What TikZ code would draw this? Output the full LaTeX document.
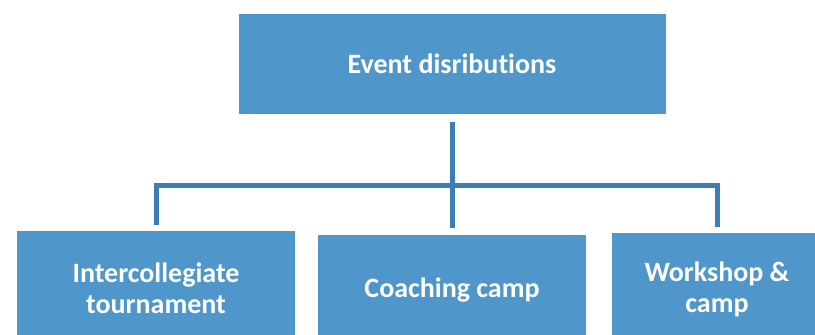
\documentclass[tikz,border=0pt]{standalone}
\usepackage{fontspec}
\setmainfont{Carlito}[Ligatures={NoCommon}]
\definecolor{boxblue}{HTML}{4F96CA}
\definecolor{lineblue}{HTML}{3C7DB3}
\begin{document}
\begin{tikzpicture}[x=1pt,y=-1pt,
		eventbox/.style={fill=boxblue,draw=none,inner sep=0pt,align=center,
			text=white,font=\bfseries\fontsize{28}{31}\selectfont},
		conn/.style={draw=lineblue,line width=5pt}]
	\useasboundingbox (0,0) rectangle (815,335);
	\clip (0,0) rectangle (815,335);
	%top box
	\node [eventbox,minimum width=427pt,minimum height=100pt] (top) at (452,64) {Event disributions};
	%bottom row
	\node [eventbox,minimum width=278pt,minimum height=114pt] (inter) at (156,288) {Intercollegiate\\tournament};
	\node [eventbox,minimum width=268pt,minimum height=110pt] (coach) at (452,290) {Coaching camp};
	\node [eventbox,minimum width=210pt,minimum height=112pt] (work) at (717,289) {Workshop \&\\camp};
	%connectors
	\coordinate (hub) at (452,185);
	\draw [conn] ([yshift=-8pt]top.south) -- (hub);
	\draw [conn] ([yshift=6pt]inter.north) |- (hub) -| ([yshift=6pt]work.north);
	\draw [conn] (hub) -- ([yshift=7pt]coach.north);
\end{tikzpicture}
\end{document}
